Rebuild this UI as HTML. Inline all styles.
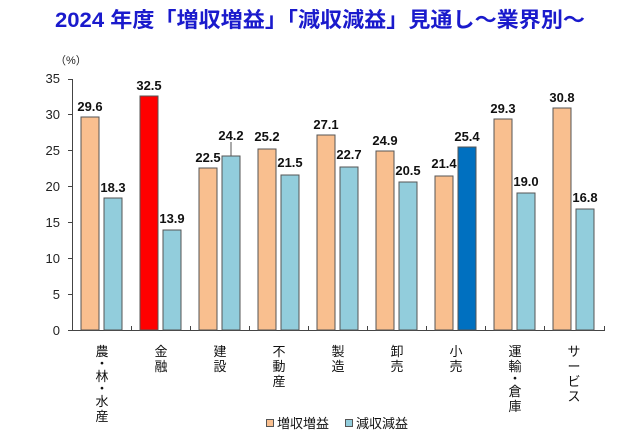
<!DOCTYPE html>
<html><head><meta charset="utf-8"><style>body{margin:0;background:#fff}svg{display:block}</style></head><body>
<svg width="640" height="442" xmlns="http://www.w3.org/2000/svg" font-family="Liberation Sans, Noto Sans CJK JP, sans-serif">
<text x="320" y="27" text-anchor="middle" font-size="21" font-weight="bold" fill="#1a1acc" textLength="530" lengthAdjust="spacingAndGlyphs">2024 年度「増収増益」「減収減益」見通し～業界別～</text>
<text x="55" y="64" font-size="11" fill="#222">（%）</text>
<g font-size="13" fill="#222" text-anchor="end">
<text x="60" y="335">0</text><text x="60" y="299">5</text><text x="60" y="263">10</text><text x="60" y="227">15</text><text x="60" y="191">20</text><text x="60" y="155">25</text><text x="60" y="119">30</text><text x="60" y="83">35</text>
</g>
<g stroke="#444" stroke-width="1">
<line x1="72.5" y1="79" x2="72.5" y2="331"/><line x1="72" y1="330.5" x2="605" y2="330.5"/>
<line x1="68" y1="330.5" x2="72" y2="330.5"/><line x1="68" y1="294.5" x2="72" y2="294.5"/><line x1="68" y1="258.5" x2="72" y2="258.5"/><line x1="68" y1="222.5" x2="72" y2="222.5"/><line x1="68" y1="186.5" x2="72" y2="186.5"/><line x1="68" y1="150.5" x2="72" y2="150.5"/><line x1="68" y1="114.5" x2="72" y2="114.5"/><line x1="68" y1="79.5" x2="72" y2="79.5"/>
<line x1="131.5" y1="326" x2="131.5" y2="331"/><line x1="190.5" y1="326" x2="190.5" y2="331"/><line x1="249.5" y1="326" x2="249.5" y2="331"/><line x1="308.5" y1="326" x2="308.5" y2="331"/><line x1="367.5" y1="326" x2="367.5" y2="331"/><line x1="426.5" y1="326" x2="426.5" y2="331"/><line x1="485.5" y1="326" x2="485.5" y2="331"/><line x1="544.5" y1="326" x2="544.5" y2="331"/><line x1="604.5" y1="326" x2="604.5" y2="331"/>
</g>
<g stroke="#555" stroke-width="1">
<rect x="81" y="117" width="18" height="213" fill="#f9bf8f"/><rect x="104" y="198" width="18" height="132" fill="#92cddc"/>
<rect x="140" y="96" width="18" height="234" fill="#ff0000"/><rect x="163" y="230" width="18" height="100" fill="#92cddc"/>
<rect x="199" y="168" width="18" height="162" fill="#f9bf8f"/><rect x="222" y="156" width="18" height="174" fill="#92cddc"/>
<rect x="258" y="149" width="18" height="181" fill="#f9bf8f"/><rect x="281" y="175" width="18" height="155" fill="#92cddc"/>
<rect x="317" y="135" width="18" height="195" fill="#f9bf8f"/><rect x="340" y="167" width="18" height="163" fill="#92cddc"/>
<rect x="376" y="151" width="18" height="179" fill="#f9bf8f"/><rect x="399" y="182" width="18" height="148" fill="#92cddc"/>
<rect x="435" y="176" width="18" height="154" fill="#f9bf8f"/><rect x="458" y="147" width="18" height="183" fill="#0070c0"/>
<rect x="494" y="119" width="18" height="211" fill="#f9bf8f"/><rect x="517" y="193" width="18" height="137" fill="#92cddc"/>
<rect x="553" y="108" width="18" height="222" fill="#f9bf8f"/><rect x="576" y="209" width="18" height="121" fill="#92cddc"/>
<line x1="231" y1="142" x2="231" y2="156"/>
</g>
<g font-size="13" font-weight="bold" fill="#111" text-anchor="middle">
<text x="90" y="111">29.6</text><text x="113" y="192">18.3</text>
<text x="149" y="90">32.5</text><text x="172" y="223">13.9</text>
<text x="208" y="162">22.5</text><text x="231" y="140">24.2</text>
<text x="267" y="141">25.2</text><text x="290" y="167">21.5</text>
<text x="326" y="129">27.1</text><text x="349" y="159">22.7</text>
<text x="385" y="145">24.9</text><text x="408" y="175">20.5</text>
<text x="444" y="168">21.4</text><text x="467" y="141">25.4</text>
<text x="503" y="113">29.3</text><text x="526" y="186">19.0</text>
<text x="562" y="102">30.8</text><text x="585" y="202">16.8</text>
</g>
<g font-size="13" fill="#111" text-anchor="middle">
<text x="102" y="356">農</text><text x="102" y="368">・</text><text x="102" y="381">林</text><text x="102" y="393">・</text><text x="102" y="406">水</text><text x="102" y="421">産</text>
<text x="161" y="356">金</text><text x="161" y="371">融</text>
<text x="220" y="356">建</text><text x="220" y="371">設</text>
<text x="279" y="356">不</text><text x="279" y="371">動</text><text x="279" y="386">産</text>
<text x="338" y="356">製</text><text x="338" y="371">造</text>
<text x="397" y="356">卸</text><text x="397" y="371">売</text>
<text x="456" y="356">小</text><text x="456" y="371">売</text>
<text x="515" y="356">運</text><text x="515" y="371">輸</text><text x="515" y="383">・</text><text x="515" y="396">倉</text><text x="515" y="411">庫</text>
<text x="574" y="356">サ</text><text x="574" y="371">ー</text><text x="574" y="386">ビ</text><text x="574" y="401">ス</text>
</g>
<g font-size="13" fill="#111">
<rect x="266.5" y="419.5" width="7" height="7" fill="#f9bf8f" stroke="#555"/><text x="277" y="428">増収増益</text>
<rect x="345.5" y="419.5" width="7" height="7" fill="#92cddc" stroke="#555"/><text x="356" y="428">減収減益</text>
</g>
</svg>
</body></html>
